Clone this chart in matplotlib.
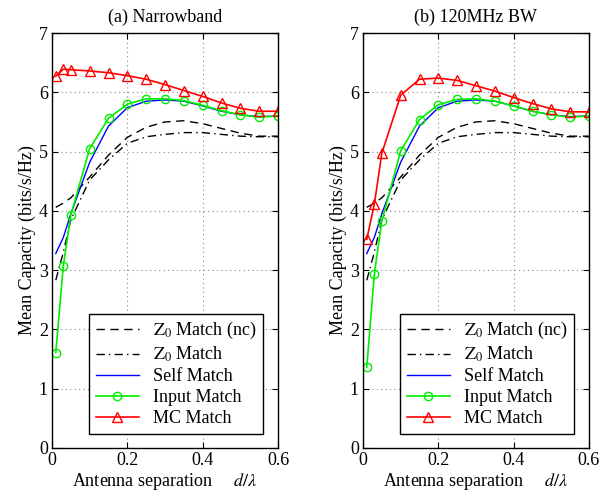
import matplotlib
matplotlib.use("Agg")
import matplotlib.pyplot as plt

plt.rcParams["font.family"] = ["Liberation Serif", "DejaVu Serif"]
plt.rcParams["mathtext.fontset"] = "stix"
plt.rcParams["font.size"] = 13

# antenna separation d/lambda
sep = [0.01, 0.03, 0.05, 0.1, 0.15, 0.2, 0.25, 0.3, 0.35, 0.4, 0.45, 0.5, 0.55, 0.6]

# shared curves (same in both panels)
z0_nc = [4.06, 4.13, 4.22, 4.57, 4.94, 5.24, 5.41, 5.50, 5.52, 5.47, 5.39, 5.31, 5.26, 5.26]
z0 = [2.83, 3.30, 3.85, 4.52, 4.86, 5.14, 5.25, 5.29, 5.32, 5.32, 5.29, 5.26, 5.25, 5.25]
self_match = [3.28, 3.55, 3.95, 4.82, 5.43, 5.74, 5.85, 5.87, 5.85, 5.77, 5.68, 5.62, 5.59, 5.60]

# narrowband
input_nb = [1.61, 3.07, 3.93, 5.05, 5.56, 5.80, 5.89, 5.89, 5.86, 5.78, 5.69, 5.62, 5.58, 5.60]
mc_nb = [6.27, 6.39, 6.38, 6.36, 6.33, 6.28, 6.22, 6.13, 6.03, 5.93, 5.82, 5.73, 5.68, 5.68]

# 120 MHz bandwidth
input_bw = [1.36, 2.93, 3.83, 5.01, 5.54, 5.79, 5.88, 5.89, 5.85, 5.77, 5.68, 5.62, 5.58, 5.60]
mc_bw = [3.52, 4.11, 4.97, 5.95, 6.22, 6.24, 6.20, 6.11, 6.02, 5.91, 5.81, 5.72, 5.67, 5.67]

titles = ["(a) Narrowband", "(b) 120MHz BW"]
xticks = [0, 0.2, 0.4, 0.6]
yticks = [0, 1, 2, 3, 4, 5, 6, 7]

fig = plt.figure(figsize=(6.14, 4.95), dpi=100)
W, H = 614.0, 495.0
lefts = [52, 363]
axes = [fig.add_axes([l / W, (H - 448) / H, 226 / W, 415 / H]) for l in lefts]

for ax, title, inp, mc in zip(axes, titles, [input_nb, input_bw], [mc_nb, mc_bw]):
    ax.plot(sep, z0_nc, color="k", ls=(0, (6, 4)), lw=1.0, label="$\\mathrm{Z_0}$ Match (nc)")
    ax.plot(sep, z0, color="k", ls=(0, (6, 3, 1, 3)), lw=1.0, label="$\\mathrm{Z_0}$ Match")
    ax.plot(sep, self_match, color="#0000ff", lw=1.0, label="Self Match")
    ax.plot(sep, inp, color="#00ee00", lw=1.2, marker="o", ms=6, mfc="none",
            mec="#00ee00", label="Input Match")
    ax.plot(sep, mc, color="#ff0000", lw=1.2, marker="^", ms=6.5, mfc="none",
            mec="#ff0000", label="MC Match")

    ax.set_xlim(0, 0.6)
    ax.set_ylim(0, 7)
    ax.set_xticks(xticks)
    ax.set_xticklabels(["0", "0.2", "0.4", "0.6"])
    ax.set_yticks(yticks)
    ax.tick_params(direction="in", top=True, right=True, length=4, pad=3)
    ax.grid(True, ls=(0, (1, 3)), color="#888888", lw=0.8)
    for s in ax.spines.values():
        s.set_linewidth(1.0)
    ax.set_title(title, fontsize=13, pad=8)
    ax.set_ylabel("Mean Capacity (bits/s/Hz)", labelpad=2)
    ax.set_xlabel("Antenna separation     $d/\\lambda$", labelpad=1)
    leg = ax.legend(loc="lower right", bbox_to_anchor=(0.975, 0.013), fancybox=False,
                    framealpha=1, edgecolor="k", handlelength=2.4, borderpad=0.35,
                    labelspacing=0.22, handletextpad=0.8, fontsize=13)
    leg.get_frame().set_linewidth(1.0)

fig.savefig("out.png", dpi=100)
